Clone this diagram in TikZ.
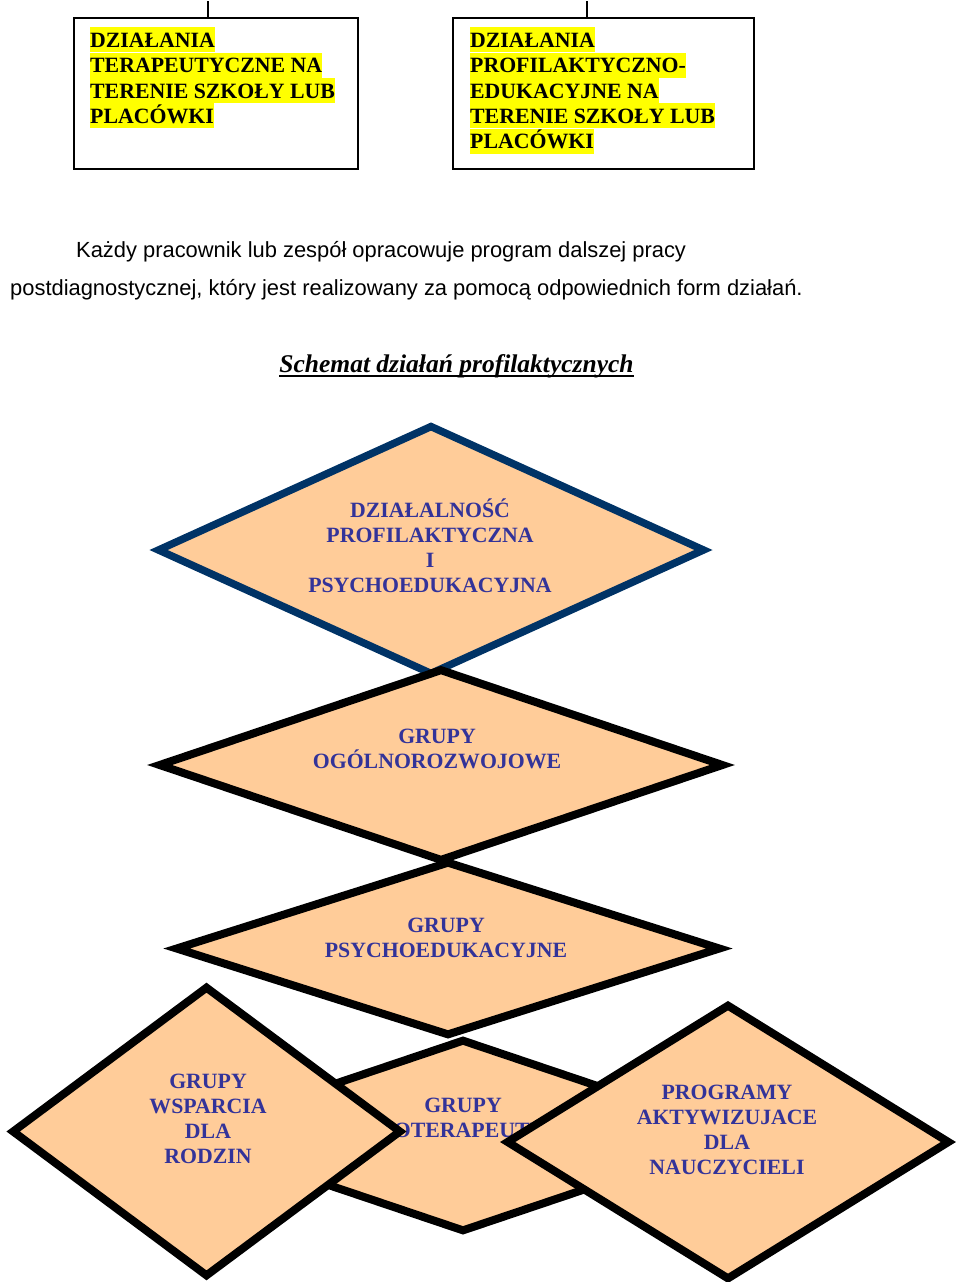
\documentclass[tikz,border=0pt]{standalone}
\usepackage{fontspec}
\setmainfont{Liberation Serif}
\newfontfamily\arialfont{Liberation Sans}
\usetikzlibrary{shapes.geometric,positioning}
\definecolor{peach}{HTML}{FFCC99}
\definecolor{navyline}{HTML}{003366}
\definecolor{textblue}{HTML}{333399}
\definecolor{hlyellow}{HTML}{FFFF00}
\tikzset{
    action box/.style={draw=black, line width=1.5pt, inner sep=0pt},
    box tick/.style={line width=2.5pt},
    marked line/.style={
        fill=hlyellow, inner sep=0pt, anchor=north west,
        text height=20pt, text depth=5pt,
        font=\fontsize{21.8}{25}\selectfont\bfseries
    },
    lead text/.style={anchor=base west, inner sep=0pt, font=\arialfont\fontsize{21.9}{26}\selectfont},
    scheme title/.style={anchor=base, inner sep=0pt, font=\fontsize{25.5}{30}\selectfont\bfseries\itshape},
    title rule/.style={line width=1.6pt},
    form shape/.style n args={2}{
        shape=diamond, draw=black, line width=8pt, fill=peach,
        inner sep=0pt, minimum width=#1pt, minimum height=#2pt
    },
    % anchored at the baseline of the last line
    form text/.style={
        anchor=base, align=center, inner sep=0pt, text=textblue,
        font=\fontsize{21.8}{25}\selectfont\bfseries
    }
}
\begin{document}
\begin{tikzpicture}[x=1pt, y=-1pt]
    \useasboundingbox (0,0) rectangle (960,1282);

    % two boxes at the top
    \node[action box, minimum width=284pt, minimum height=151pt] (boxL) at (216,93.5) {};
    \node[action box, minimum width=301pt, minimum height=151pt] (boxR) at (603.5,93.5) {};
    \coordinate (tickL) at (208,1);
    \coordinate (tickR) at (587,1);
    \draw[box tick] (tickL) -- (tickL |- boxL.north);
    \draw[box tick] (tickR) -- (tickR |- boxR.north);

    \node[marked line] (l1) at (90,27) {DZIAŁANIA};
    \node[marked line] (l2) at (l1.south west) {TERAPEUTYCZNE NA};
    \node[marked line] (l3) at (l2.south west) {TERENIE SZKOŁY LUB};
    \node[marked line] (l4) at (l3.south west) {PLACÓWKI};

    \node[marked line] (r1) at (470,27) {DZIAŁANIA};
    \node[marked line] (r2) at (r1.south west) {PROFILAKTYCZNO-};
    \node[marked line] (r3) at (r2.south west) {EDUKACYJNE NA};
    \node[marked line] (r4) at (r3.south west) {TERENIE SZKOŁY LUB};
    \node[marked line] (r5) at (r4.south west) {PLACÓWKI};

    % paragraph and title
    \node[lead text] (lead1) at (76,257) {Każdy pracownik lub zespół opracowuje program dalszej pracy};
    \node[lead text] (lead2) at (10,295) {postdiagnostycznej, który jest realizowany za pomocą odpowiednich form działań.};
    \node[scheme title] (title) at (456.5,372) {Schemat działań profilaktycznych};
    \draw[title rule] ([yshift=-4pt]title.base west) -- ([yshift=-4pt]title.base east);

    % diamonds, later ones drawn over earlier ones
    \node[form shape={548}{250}, draw=navyline, line width=7.5pt] (d1) at (431,550) {};
    \node[form text] (t1) at (430,592) {DZIAŁALNOŚĆ\\PROFILAKTYCZNA\\I\\PSYCHOEDUKACYJNA};
    \node[form shape={566}{193}] (d2) at (441,765) {};
    \node[form text] (t2) at (437,768) {GRUPY\\OGÓLNOROZWOJOWE};
    \node[form shape={546}{175}] (d3) at (448,948.5) {};
    \node[form text] (t3) at (446,957) {GRUPY\\PSYCHOEDUKACYJNE};
    \node[form shape={566}{193}] (d4) at (463,1135.5) {};
    \node[form text] (t4) at (463,1137) {GRUPY\\PSYCHOTERAPEUTYCZNE};
    \node[form shape={390}{291}] (d5) at (206.5,1131.5) {};
    \node[form text] (t5) at (208,1163) {GRUPY\\WSPARCIA\\DLA\\RODZIN};
    \node[form shape={444}{276}] (d6) at (728,1142) {};
    \node[form text] (t6) at (727,1174) {PROGRAMY\\AKTYWIZUJACE\\DLA\\NAUCZYCIELI};
\end{tikzpicture}
\end{document}
